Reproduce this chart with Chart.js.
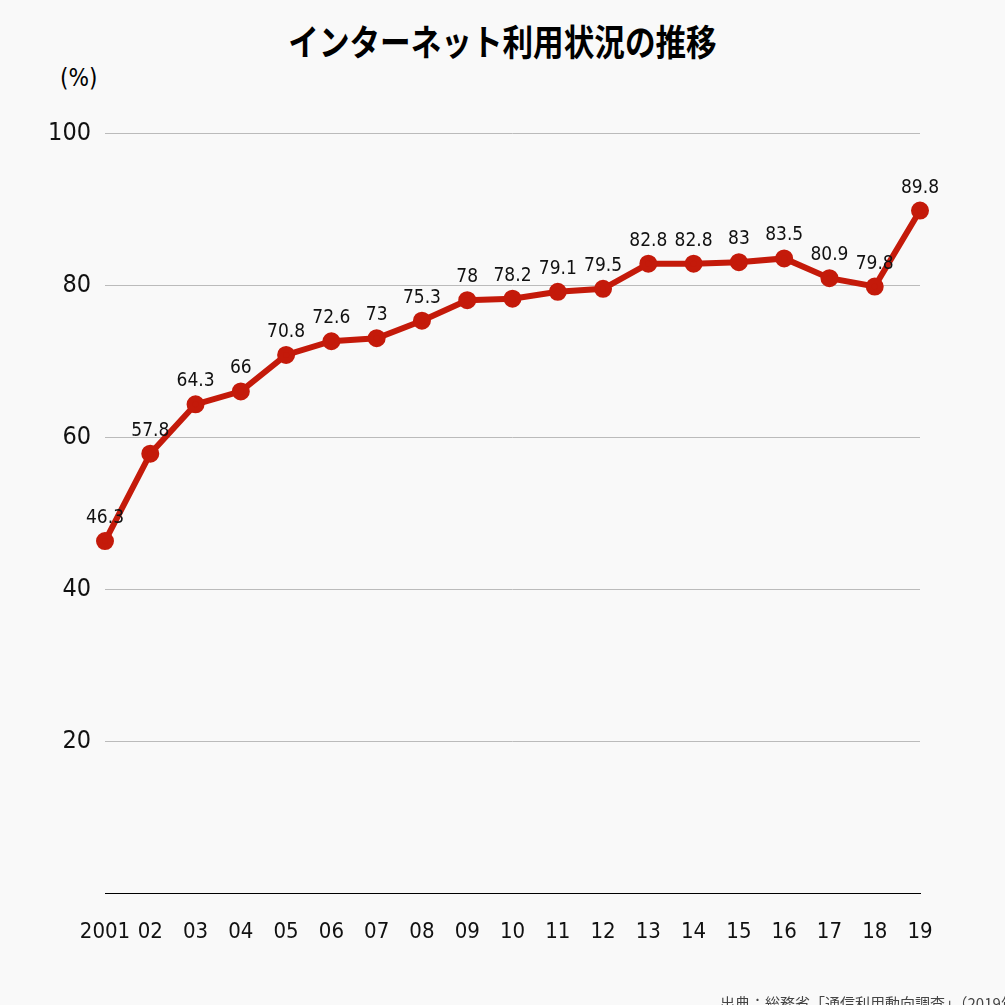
<!DOCTYPE html>
<html><head><meta charset="utf-8">
<script src="https://cdn.jsdelivr.net/npm/chart.js@4"></script>
<style>
body{margin:0;background:#f9f9f9;overflow:hidden}
#wrap{position:relative;width:1005px;height:1005px}
#title{position:absolute;top:14px;left:0;width:1005px;text-align:center;font:bold 36px "Noto Sans CJK JP";transform:scaleX(0.85)}
#unit{position:absolute;top:64px;left:60px;font:24px "DejaVu Sans Condensed","Noto Sans CJK JP"}
#src{position:absolute;top:992px;left:720px;font:15px "Noto Sans CJK JP";color:#444;white-space:nowrap}
canvas{position:absolute;top:0;left:0}
</style></head><body>
<div id="wrap">
<div id="title">インターネット利用状況の推移</div>
<div id="unit">(%)</div>
<canvas id="c" width="1005" height="1005"></canvas>
<div id="src">出典：総務省「通信利用動向調査」（2019年）</div>
</div>
<script>
const years = ["2001","02","03","04","05","06","07","08","09","10","11","12","13","14","15","16","17","18","19"];
const usage = [46.3,57.8,64.3,66,70.8,72.6,73,75.3,78,78.2,79.1,79.5,82.8,82.8,83,83.5,80.9,79.8,89.8];
const yTicks = [20,40,60,80,100];
const FONT = "DejaVu Sans Condensed";

const valueLabels = {
  id: "valueLabels",
  afterDatasetsDraw(chart) {
    const ctx = chart.ctx;
    ctx.save();
    ctx.font = '19px "' + FONT + '"';
    ctx.fillStyle = "#111";
    ctx.textAlign = "center";
    chart.getDatasetMeta(0).data.forEach((pt, i) => {
      ctx.fillText(String(usage[i]), pt.x, pt.y - 18);
    });
    ctx.restore();
  }
};

new Chart(document.getElementById("c"), {
  type: "line",
  data: { labels: years, datasets: [{
    data: usage, borderColor: "#c41a0a", backgroundColor: "#c41a0a",
    borderWidth: 6, pointRadius: 6, pointHoverRadius: 6, tension: 0
  }]},
  options: {
    responsive: false, animation: false,
    layout: { padding: { top: 133, right: 85, left: 0, bottom: 0 } },
    plugins: { legend: { display: false }, tooltip: { enabled: false } },
    scales: {
      x: {
        offset: false,
        grid: { display: false, drawTicks: false },
        border: { color: "#000", width: 1 },
        ticks: { padding: 26, color: "#111", font: { family: FONT, size: 22 }, maxRotation: 0, autoSkip: false },
        afterFit(s) { s.height = 112; }
      },
      y: {
        min: 0, max: 100,
        afterBuildTicks(s) { s.ticks = yTicks.map(v => ({ value: v })); },
        grid: { color: "#bbb", drawTicks: false },
        border: { display: false },
        ticks: { padding: 14, color: "#111", font: { family: FONT, size: 25 } },
        afterFit(s) { s.width = 105; }
      }
    }
  },
  plugins: [valueLabels]
});
</script>
</body></html>
